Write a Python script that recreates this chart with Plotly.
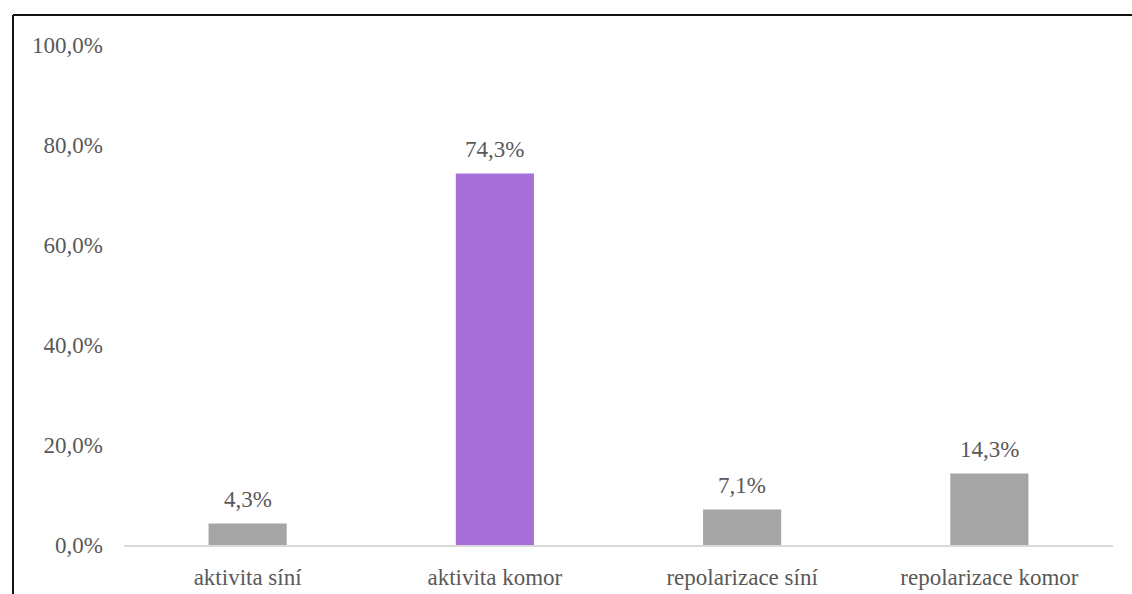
import plotly.graph_objects as go

categories = ["aktivita síní", "aktivita komor", "repolarizace síní", "repolarizace komor"]
values = [4.3, 74.3, 7.1, 14.3]
labels = ["4,3%", "74,3%", "7,1%", "14,3%"]
colors = ["#A5A5A5", "#A86FD9", "#A5A5A5", "#A5A5A5"]
ytick_vals = [0, 20, 40, 60, 80, 100]
ytick_text = ["0,0%", "20,0%", "40,0%", "60,0%", "80,0%", "100,0%"]

FONT = "Liberation Serif"
TXT = "#595959"

fig = go.Figure()
fig.add_trace(go.Bar(x=categories, y=values, marker=dict(color=colors, line=dict(width=0)),
                     hoverinfo="skip"))

for c, v, t in zip(categories, values, labels):
    fig.add_annotation(x=c, y=v, text=t, showarrow=False, yanchor="bottom",
                       yshift=10, font=dict(family=FONT, size=23, color=TXT))

L, R, T, B = 124, 19, 45, 49
W, H = 1132, 594
pw, ph = W - L - R, H - T - B
def px(x):
    return (x - L) / pw
def py(y):
    return (H - B - y) / ph

fig.add_shape(type="line", xref="paper", yref="paper", x0=px(13), x1=px(1200), y0=py(15), y1=py(15),
              line=dict(color="#111111", width=2))
fig.add_shape(type="line", xref="paper", yref="paper", x0=px(13), x1=px(13), y0=py(15), y1=py(700),
              line=dict(color="#111111", width=2))

fig.update_layout(
    width=W, height=H,
    margin=dict(l=L, r=R, t=T, b=B, pad=0, autoexpand=False),
    paper_bgcolor="white", plot_bgcolor="white",
    bargap=0.684,
    showlegend=False,
    font=dict(family=FONT, size=23, color=TXT),
)
fig.update_yaxes(range=[0, 100], tickvals=ytick_vals, ticktext=ytick_text, showgrid=False,
                 zeroline=False, showline=False, ticks="", ticklabelstandoff=20, automargin=False,
                 tickfont=dict(family=FONT, size=23, color=TXT))
fig.update_xaxes(showgrid=False, showline=True, linecolor="#D9D9D9", linewidth=1.5,
                 ticks="", ticklabelstandoff=11, automargin=False,
                 tickfont=dict(family=FONT, size=23, color=TXT))

fig.write_html("out.html")
